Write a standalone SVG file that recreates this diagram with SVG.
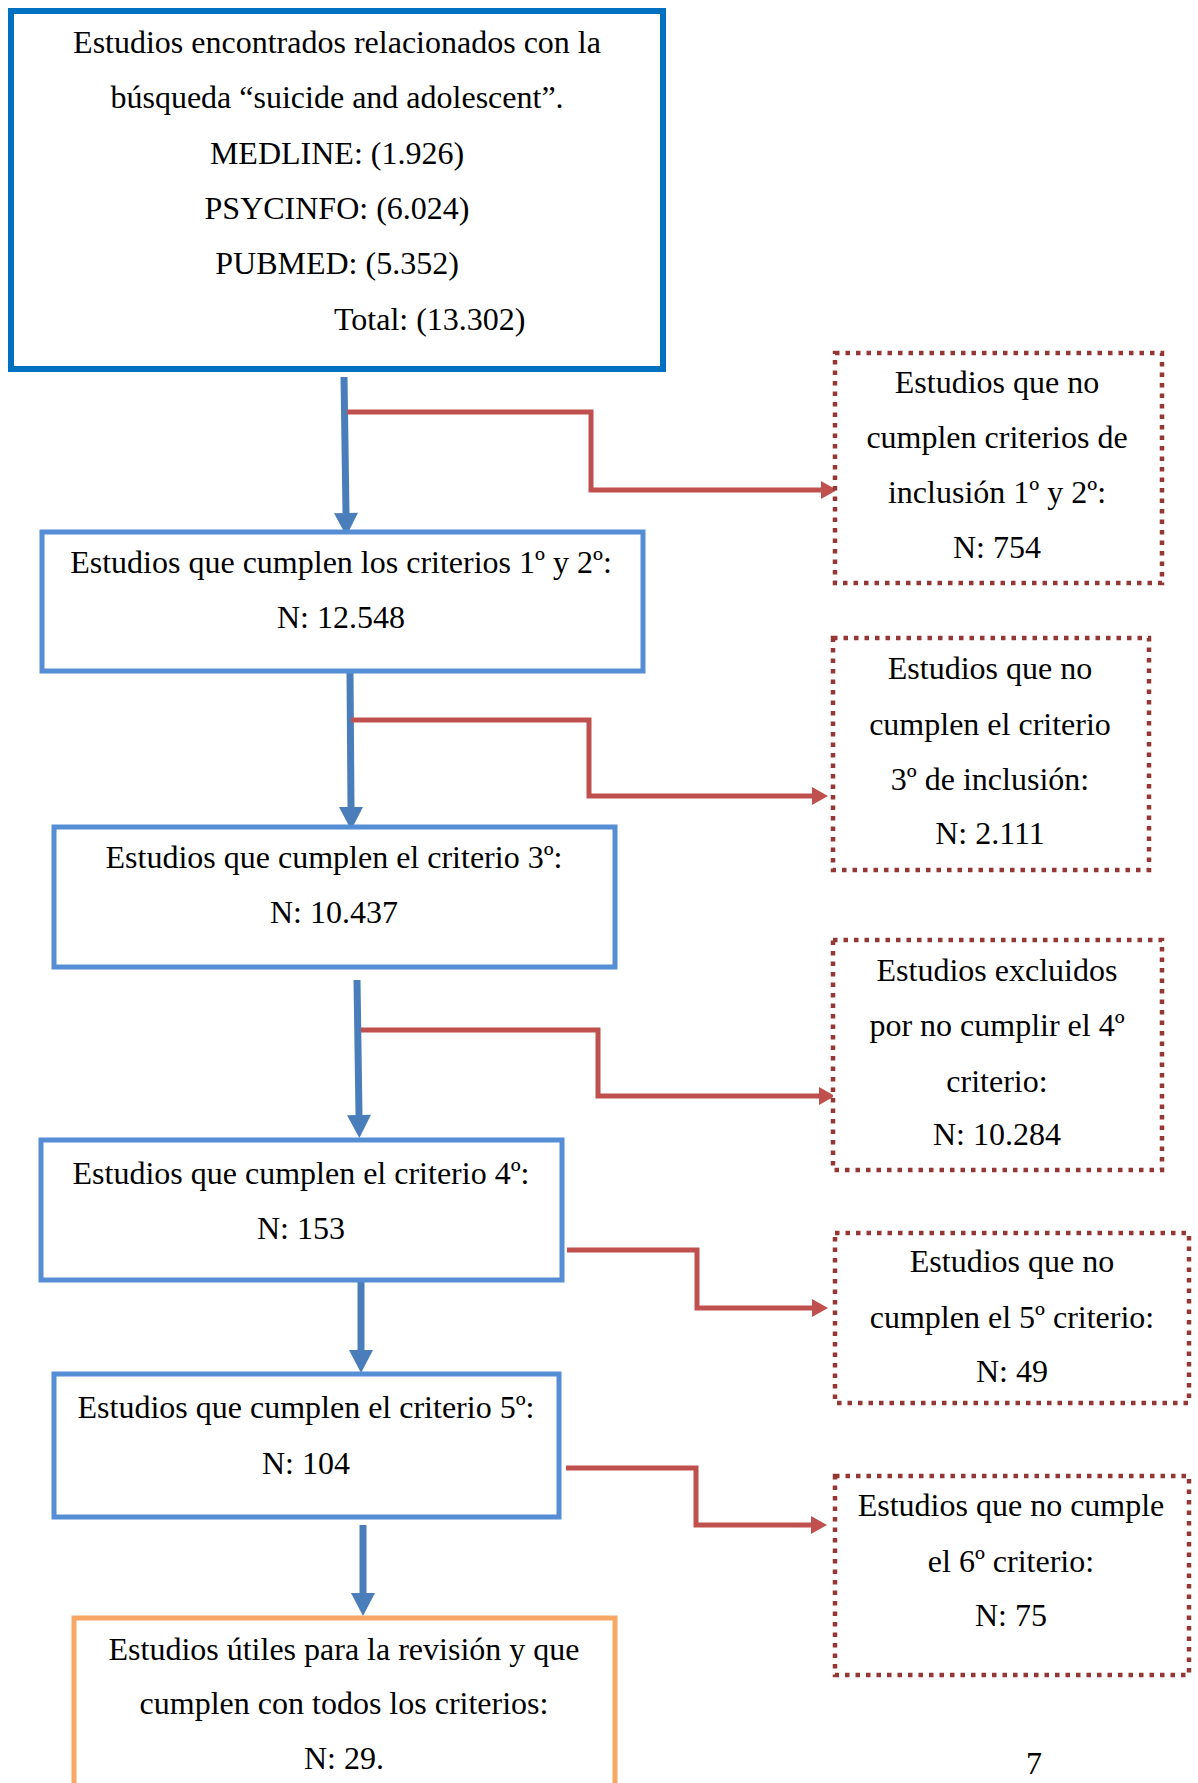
<svg xmlns="http://www.w3.org/2000/svg" width="1198" height="1783" viewBox="0 0 1198 1783">
<style>
text{font-family:"Liberation Serif","Times New Roman",serif;font-size:32px;fill:#000;text-anchor:middle}
.main{fill:#fff;stroke:#558ED5;stroke-width:5}
.top{fill:#fff;stroke:#0070C0;stroke-width:6}
.fin{fill:#fff;stroke:#F9A765;stroke-width:5}
.excl{fill:#fff;stroke:#953735;stroke-width:4.5;stroke-dasharray:4.5 6}
.blue{fill:none;stroke:#4A7EBB;stroke-width:7;marker-end:url(#ab)}
.red{fill:none;stroke:#C0504D;stroke-width:5;marker-end:url(#ar)}
</style>
<defs>
<marker id="ab" markerUnits="userSpaceOnUse" markerWidth="23" markerHeight="24" refX="0" refY="12" orient="auto" overflow="visible"><path d="M0,0 L23,12 L0,24 Z" fill="#4A7EBB"/></marker>
<marker id="ar" markerUnits="userSpaceOnUse" markerWidth="16" markerHeight="18" refX="0" refY="9" orient="auto" overflow="visible"><path d="M0,0 L16,9 L0,18 Z" fill="#C0504D"/></marker>
</defs>
<rect width="1198" height="1783" fill="#fff"/>
<g id="connectors">
<path class="blue" d="M344,377 L346,513"/>
<path class="blue" d="M350,672 L351,807"/>
<path class="blue" d="M357,980 L359,1115"/>
<path class="blue" d="M361,1281 L361,1350"/>
<path class="blue" d="M363,1525 L363,1593"/>
<path class="red" d="M347,412 H591 V490 H821"/>
<path class="red" d="M351,720 H589 V796 H812"/>
<path class="red" d="M361,1030 H598 V1096 H819"/>
<path class="red" d="M567,1250 H697 V1308 H812"/>
<path class="red" d="M566,1468 H696 V1525 H811"/>
</g>
<g id="n1">
<rect class="top" x="11" y="11" width="652" height="358"/>
<text x="337" y="53">Estudios encontrados relacionados con la</text>
<text x="337" y="108">búsqueda “suicide and adolescent”.</text>
<text x="337" y="164">MEDLINE: (1.926)</text>
<text x="337" y="219">PSYCINFO: (6.024)</text>
<text x="337" y="274">PUBMED: (5.352)</text>
<text x="334" y="330" style="text-anchor:start">Total: (13.302)</text>
</g>
<g id="n2">
<rect class="main" x="42" y="532" width="601" height="139"/>
<text x="341" y="573">Estudios que cumplen los criterios 1º y 2º:</text>
<text x="341" y="628">N: 12.548</text>
</g>
<g id="n3">
<rect class="main" x="54" y="827" width="561" height="140"/>
<text x="334" y="868">Estudios que cumplen el criterio 3º:</text>
<text x="334" y="923">N: 10.437</text>
</g>
<g id="n4">
<rect class="main" x="41" y="1140" width="521" height="140"/>
<text x="301" y="1184">Estudios que cumplen el criterio 4º:</text>
<text x="301" y="1239">N: 153</text>
</g>
<g id="n5">
<rect class="main" x="54" y="1374" width="505" height="143"/>
<text x="306" y="1418">Estudios que cumplen el criterio 5º:</text>
<text x="306" y="1474">N: 104</text>
</g>
<g id="n6">
<rect class="fin" x="74" y="1618" width="541" height="200"/>
<text x="344" y="1660">Estudios útiles para la revisión y que</text>
<text x="344" y="1714">cumplen con todos los criterios:</text>
<text x="344" y="1769">N: 29.</text>
</g>
<g id="e1">
<rect class="excl" x="835" y="353" width="327" height="230"/>
<text x="997" y="393">Estudios que no</text>
<text x="997" y="448">cumplen criterios de</text>
<text x="997" y="503">inclusión 1º y 2º:</text>
<text x="997" y="558">N: 754</text>
</g>
<g id="e2">
<rect class="excl" x="833" y="638" width="316" height="232"/>
<text x="990" y="679">Estudios que no</text>
<text x="990" y="735">cumplen el criterio</text>
<text x="990" y="790">3º de inclusión:</text>
<text x="990" y="844">N: 2.111</text>
</g>
<g id="e3">
<rect class="excl" x="833" y="940" width="329" height="230"/>
<text x="997" y="981">Estudios excluidos</text>
<text x="997" y="1036">por no cumplir el 4º</text>
<text x="997" y="1092">criterio:</text>
<text x="997" y="1145">N: 10.284</text>
</g>
<g id="e4">
<rect class="excl" x="835" y="1233" width="354" height="170"/>
<text x="1012" y="1272">Estudios que no</text>
<text x="1012" y="1328">cumplen el 5º criterio:</text>
<text x="1012" y="1382">N: 49</text>
</g>
<g id="e5">
<rect class="excl" x="835" y="1476" width="354" height="199"/>
<text x="1011" y="1516">Estudios que no cumple</text>
<text x="1011" y="1572">el 6º criterio:</text>
<text x="1011" y="1626">N: 75</text>
</g>
<text x="1034" y="1774">7</text>
</svg>
